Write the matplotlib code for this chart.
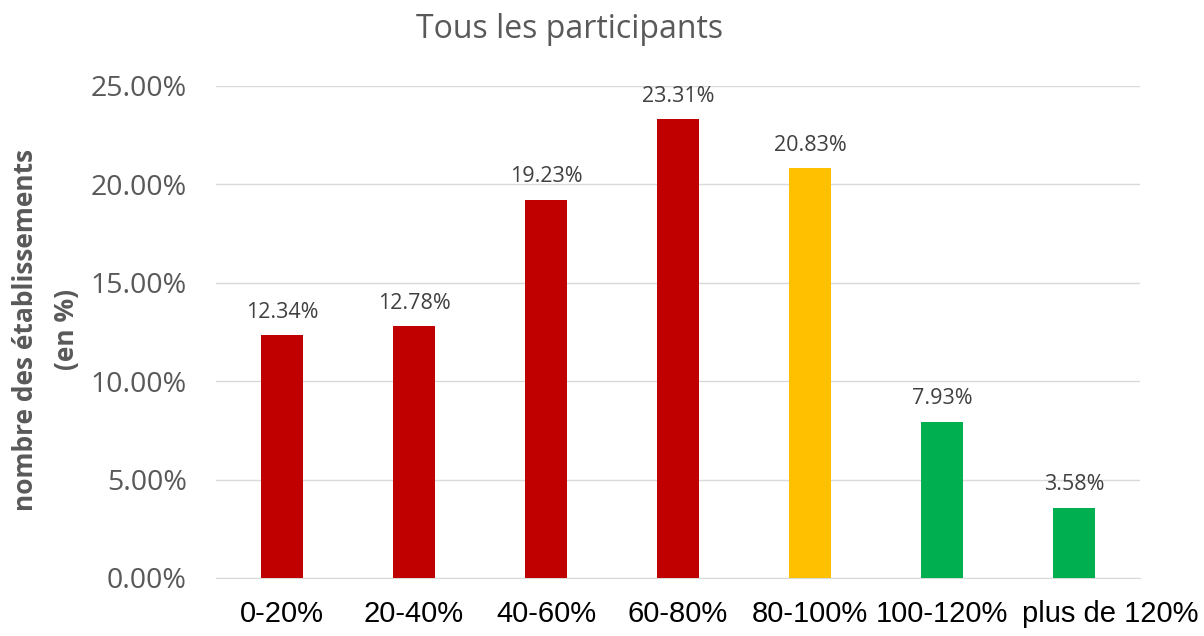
import matplotlib.pyplot as plt
from matplotlib.ticker import FuncFormatter
from matplotlib.transforms import ScaledTranslation

categories = ['0-20%', '20-40%', '40-60%', '60-80%', '80-100%', '100-120%', 'plus de 120%']
values = [12.34, 12.78, 19.23, 23.31, 20.83, 7.93, 3.58]
bar_colors = ['#C00000', '#C00000', '#C00000', '#C00000', '#FFC000', '#00B050', '#00B050']
yticks = [0, 5, 10, 15, 20, 25]

plt.rcParams['font.family'] = ['Open Sans', 'DejaVu Sans']
text_color = '#595959'

fig = plt.figure(figsize=(12.04, 6.36), dpi=100)
ax = fig.add_axes([216 / 1204, 1 - 578 / 636, (1140 - 216) / 1204, (578 - 86) / 636])

x = range(len(categories))
bars = ax.bar(x, values, width=0.32, color=bar_colors, zorder=3)

# value labels above each bar
for xi, v in zip(x, values):
    ax.annotate(f'{v:.2f}%', (xi, v), xytext=(0, 9), textcoords='offset points',
                ha='center', va='bottom', fontsize=15.5, color='#404040')

ax.set_xlim(-0.5, len(categories) - 0.5)
ax.set_ylim(0, 25)
ax.set_yticks(yticks)
ax.yaxis.set_major_formatter(FuncFormatter(lambda v, p: f'{v:.2f}%'))
ax.set_xticks(list(x))
ax.set_xticklabels(categories, fontfamily=['Liberation Sans', 'DejaVu Sans'], fontsize=21)
ax.tick_params(axis='both', length=0)
ax.tick_params(axis='x', pad=16, labelcolor='#000000')
ax.tick_params(axis='y', pad=21, labelsize=20.5, labelcolor=text_color)

# last label is pushed right so it does not run into its neighbour (as in the original)
last = ax.get_xticklabels()[-1]
last.set_transform(last.get_transform() + ScaledTranslation(0.36, 0, fig.dpi_scale_trans))

ax.grid(axis='y', color='#D9D9D9', linewidth=1, zorder=0)
for side in ['top', 'right', 'left']:
    ax.spines[side].set_visible(False)
ax.spines['bottom'].set_color('#D9D9D9')

fig.text(46 / 1204, 1 - 330 / 636, 'nombre des établissements\n(en %)', rotation=90,
         ha='center', va='center', fontsize=19, fontweight='bold', color=text_color,
         linespacing=1.7)
fig.text(570 / 1204, 1 - 29 / 636, 'Tous les participants', ha='center', va='center',
         fontsize=23, color=text_color)

fig.savefig('out.png', dpi=100)
